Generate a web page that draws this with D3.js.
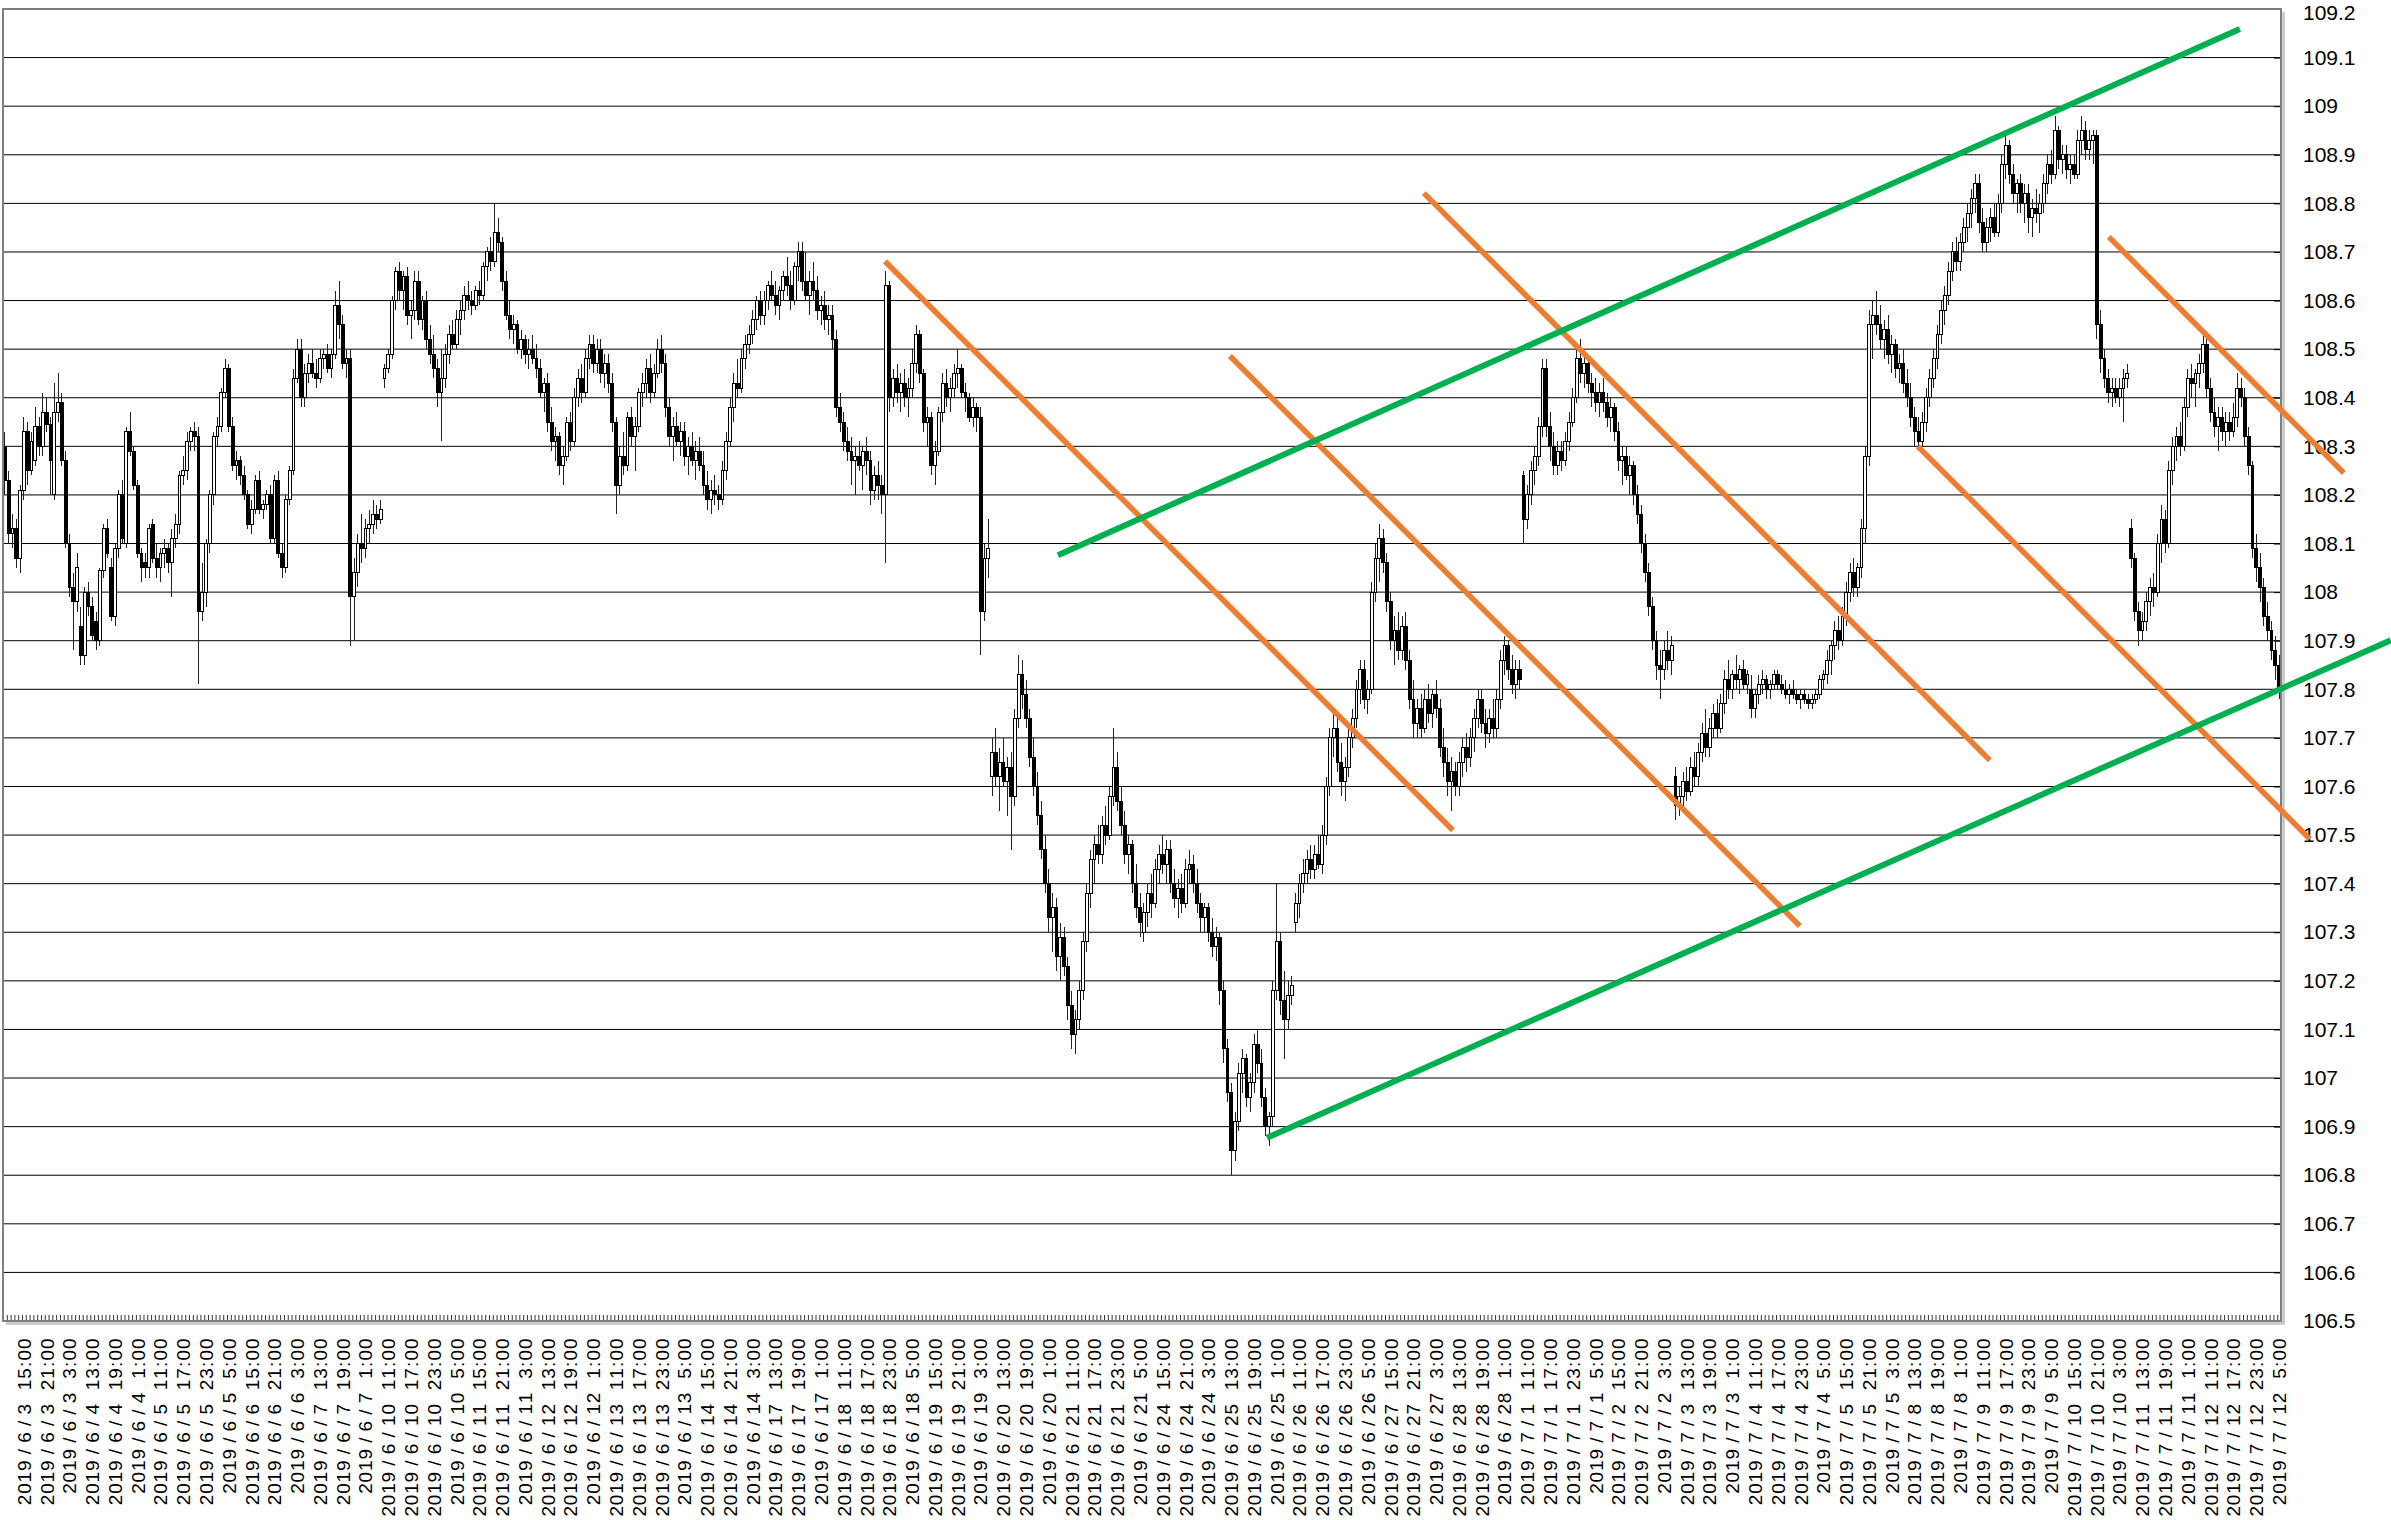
<!DOCTYPE html>
<html><head><meta charset="utf-8">
<script src="https://cdn.jsdelivr.net/npm/d3@7"></script>
<style>html,body{margin:0;padding:0;background:#fff;}svg{display:block}</style>
</head><body>
<svg id="chart" width="2391" height="1520"></svg>
<script>
// ---- tick labels (every 6th hourly bar, starting at the 6th bar) ----
const xLabels = [
"2019/6/3 15:00","2019/6/3 21:00","2019/6/3 3:00","2019/6/4 13:00","2019/6/4 19:00","2019/6/4 1:00","2019/6/5 11:00","2019/6/5 17:00","2019/6/5 23:00","2019/6/5 5:00",
"2019/6/6 15:00","2019/6/6 21:00","2019/6/6 3:00","2019/6/7 13:00","2019/6/7 19:00","2019/6/7 1:00","2019/6/10 11:00","2019/6/10 17:00","2019/6/10 23:00","2019/6/10 5:00",
"2019/6/11 15:00","2019/6/11 21:00","2019/6/11 3:00","2019/6/12 13:00","2019/6/12 19:00","2019/6/12 1:00","2019/6/13 11:00","2019/6/13 17:00","2019/6/13 23:00","2019/6/13 5:00",
"2019/6/14 15:00","2019/6/14 21:00","2019/6/14 3:00","2019/6/17 13:00","2019/6/17 19:00","2019/6/17 1:00","2019/6/18 11:00","2019/6/18 17:00","2019/6/18 23:00","2019/6/18 5:00",
"2019/6/19 15:00","2019/6/19 21:00","2019/6/19 3:00","2019/6/20 13:00","2019/6/20 19:00","2019/6/20 1:00","2019/6/21 11:00","2019/6/21 17:00","2019/6/21 23:00","2019/6/21 5:00",
"2019/6/24 15:00","2019/6/24 21:00","2019/6/24 3:00","2019/6/25 13:00","2019/6/25 19:00","2019/6/25 1:00","2019/6/26 11:00","2019/6/26 17:00","2019/6/26 23:00","2019/6/26 5:00",
"2019/6/27 15:00","2019/6/27 21:00","2019/6/27 3:00","2019/6/28 13:00","2019/6/28 19:00","2019/6/28 1:00","2019/7/1 11:00","2019/7/1 17:00","2019/7/1 23:00","2019/7/1 5:00",
"2019/7/2 15:00","2019/7/2 21:00","2019/7/2 3:00","2019/7/3 13:00","2019/7/3 19:00","2019/7/3 1:00","2019/7/4 11:00","2019/7/4 17:00","2019/7/4 23:00","2019/7/4 5:00",
"2019/7/5 15:00","2019/7/5 21:00","2019/7/5 3:00","2019/7/8 13:00","2019/7/8 19:00","2019/7/8 1:00","2019/7/9 11:00","2019/7/9 17:00","2019/7/9 23:00","2019/7/9 5:00",
"2019/7/10 15:00","2019/7/10 21:00","2019/7/10 3:00","2019/7/11 13:00","2019/7/11 19:00","2019/7/11 1:00","2019/7/12 11:00","2019/7/12 17:00","2019/7/12 23:00","2019/7/12 5:00"
];
const yTicks = [106.5,106.6,106.7,106.8,106.9,107,107.1,107.2,107.3,107.4,107.5,107.6,107.7,107.8,107.9,108,108.1,108.2,108.3,108.4,108.5,108.6,108.7,108.8,108.9,109,109.1,109.2];

// ---- hourly candles [open, high, low, close] ----
const week1 = [ // 6/3 - 6/7
[108.30,108.33,108.20,108.23],[108.23,108.25,108.10,108.12],[108.12,108.16,108.09,108.13],[108.13,108.15,108.05,108.07],[108.07,108.22,108.04,108.21],
[108.21,108.36,108.19,108.33],[108.33,108.35,108.22,108.25],[108.25,108.33,108.24,108.31],[108.27,108.38,108.26,108.34],[108.34,108.36,108.28,108.30],
[108.30,108.41,108.28,108.37],[108.37,108.40,108.33,108.345],[108.345,108.36,108.20,108.27],[108.20,108.43,108.19,108.37],[108.37,108.45,108.35,108.39],
[108.39,108.41,108.26,108.27],[108.27,108.29,108.09,108.10],[108.10,108.12,107.99,108.01],[108.01,108.04,107.88,107.98],[107.98,108.08,107.96,108.05],
[107.93,107.97,107.85,107.87],[107.87,108.01,107.85,108.00],[108.00,108.02,107.95,107.97],[107.97,107.99,107.90,107.91],[107.94,107.96,107.88,107.90],
[107.90,108.05,107.89,108.045],[108.045,108.14,108.03,108.13],[108.13,108.15,108.07,108.08],[108.05,108.07,107.94,107.95],[107.95,108.10,107.93,108.09],
[108.09,108.21,108.07,108.20],[108.20,108.23,108.10,108.11],[108.10,108.34,108.09,108.33],[108.33,108.37,108.28,108.29],[108.29,108.30,108.21,108.22],
[108.22,108.23,108.07,108.08],[108.08,108.09,108.02,108.05],[108.06,108.08,108.03,108.05],[108.05,108.14,108.03,108.13],[108.14,108.15,108.06,108.07],
[108.07,108.10,108.03,108.05],[108.05,108.09,108.02,108.08],[108.08,108.11,108.05,108.09],[108.09,108.10,108.04,108.06],[108.06,108.13,107.99,108.11],
[108.11,108.16,108.09,108.14],[108.14,108.25,108.12,108.24],[108.24,108.28,108.22,108.25],[108.25,108.33,108.23,108.31],[108.31,108.34,108.29,108.33],
[108.33,108.35,108.29,108.32],[108.32,108.34,107.81,107.96],[107.96,108.06,107.94,108.00],[108.00,108.11,107.97,108.10],[108.10,108.21,108.08,108.20],
[108.20,108.33,108.18,108.32],[108.32,108.36,108.30,108.34],[108.34,108.42,108.33,108.41],[108.41,108.48,108.40,108.46],[108.46,108.47,108.33,108.34],
[108.34,108.36,108.25,108.26],[108.26,108.29,108.23,108.27],[108.27,108.28,108.22,108.24],[108.24,108.26,108.19,108.20],[108.20,108.21,108.13,108.14],
[108.14,108.19,108.12,108.17],[108.17,108.24,108.16,108.23],[108.23,108.25,108.16,108.17],[108.17,108.19,108.15,108.18],[108.18,108.21,108.17,108.20],
[108.20,108.22,108.10,108.11],[108.11,108.24,108.10,108.23],[108.23,108.25,108.07,108.08],[108.08,108.10,108.03,108.05],[108.05,108.20,108.04,108.19],
[108.19,108.26,108.18,108.25],[108.25,108.46,108.24,108.44],[108.44,108.52,108.43,108.50],[108.50,108.52,108.38,108.40],[108.40,108.47,108.38,108.45],
[108.45,108.49,108.43,108.47],[108.47,108.50,108.44,108.45],[108.45,108.48,108.42,108.44],[108.44,108.50,108.43,108.48],[108.48,108.50,108.46,108.49],
[108.49,108.51,108.45,108.46],[108.46,108.50,108.44,108.49],[108.49,108.62,108.48,108.59],[108.59,108.64,108.52,108.55],[108.55,108.57,108.46,108.47],
[108.47,108.50,108.44,108.48],[108.48,108.50,107.89,107.99],[107.99,108.07,107.90,108.04],[108.04,108.12,108.01,108.10],[108.10,108.16,108.06,108.09],
[108.09,108.15,108.07,108.13],[108.13,108.17,108.10,108.14],[108.14,108.19,108.12,108.16],[108.16,108.18,108.13,108.15],[108.15,108.19,108.14,108.17]
];
const week2 = [ // 6/10 - 6/14
[108.44,108.47,108.42,108.46],[108.46,108.50,108.45,108.49],[108.49,108.61,108.48,108.60],[108.60,108.67,108.58,108.66],[108.66,108.68,108.60,108.62],
[108.62,108.66,108.58,108.65],[108.65,108.67,108.55,108.57],[108.57,108.60,108.52,108.58],[108.58,108.66,108.56,108.64],[108.64,108.66,108.55,108.56],
[108.56,108.61,108.54,108.60],[108.60,108.62,108.50,108.52],[108.52,108.55,108.47,108.49],[108.49,108.53,108.44,108.46],[108.46,108.48,108.38,108.41],
[108.41,108.50,108.31,108.44],[108.44,108.51,108.42,108.49],[108.49,108.55,108.47,108.53],[108.53,108.56,108.50,108.51],[108.51,108.58,108.50,108.56],
[108.56,108.60,108.53,108.58],[108.58,108.63,108.56,108.61],[108.61,108.64,108.58,108.60],[108.60,108.62,108.57,108.59],[108.59,108.63,108.58,108.62],
[108.62,108.64,108.59,108.61],[108.61,108.68,108.60,108.67],[108.67,108.71,108.64,108.70],[108.70,108.73,108.66,108.68],[108.68,108.80,108.67,108.74],
[108.74,108.77,108.70,108.72],[108.72,108.73,108.62,108.64],[108.64,108.66,108.56,108.57],[108.57,108.60,108.52,108.54],[108.54,108.57,108.51,108.55],
[108.55,108.56,108.49,108.50],[108.50,108.54,108.48,108.52],[108.52,108.53,108.47,108.49],[108.49,108.52,108.46,108.50],[108.50,108.53,108.47,108.48],
[108.48,108.51,108.44,108.46],[108.46,108.48,108.40,108.41],[108.41,108.44,108.37,108.43],[108.43,108.45,108.33,108.35],[108.35,108.38,108.29,108.31],
[108.31,108.34,108.27,108.32],[108.32,108.33,108.24,108.26],[108.26,108.30,108.22,108.28],[108.28,108.36,108.27,108.35],[108.35,108.37,108.29,108.31],
[108.31,108.42,108.30,108.40],[108.40,108.46,108.38,108.44],[108.44,108.47,108.39,108.41],[108.41,108.50,108.40,108.48],[108.48,108.53,108.46,108.51],
[108.51,108.53,108.45,108.47],[108.47,108.52,108.45,108.50],[108.50,108.52,108.43,108.45],[108.45,108.49,108.42,108.47],[108.47,108.49,108.41,108.43],
[108.43,108.45,108.33,108.35],[108.35,108.36,108.16,108.22],[108.22,108.30,108.20,108.28],[108.28,108.33,108.24,108.26],[108.26,108.37,108.25,108.36],
[108.36,108.38,108.30,108.32],[108.32,108.36,108.25,108.34],[108.34,108.42,108.33,108.41],[108.41,108.45,108.38,108.43],[108.43,108.48,108.40,108.46],
[108.46,108.49,108.39,108.41],[108.41,108.47,108.40,108.45],[108.45,108.52,108.44,108.50],[108.50,108.53,108.45,108.47],[108.47,108.49,108.36,108.38],
[108.38,108.40,108.30,108.32],[108.32,108.36,108.27,108.34],[108.34,108.37,108.30,108.31],[108.31,108.35,108.28,108.33],[108.33,108.35,108.26,108.28],
[108.28,108.32,108.24,108.30],[108.30,108.33,108.26,108.27],[108.27,108.31,108.23,108.29],[108.29,108.32,108.25,108.26],[108.26,108.29,108.20,108.22],
[108.22,108.25,108.17,108.19],[108.19,108.23,108.16,108.21],[108.21,108.24,108.18,108.20],[108.20,108.22,108.17,108.19],[108.19,108.27,108.18,108.25],
[108.25,108.33,108.23,108.31],[108.31,108.40,108.30,108.38],[108.38,108.45,108.35,108.43],[108.43,108.48,108.40,108.42],[108.42,108.50,108.41,108.48],
[108.48,108.53,108.46,108.51],[108.51,108.55,108.49,108.53],[108.53,108.58,108.51,108.56],[108.56,108.61,108.54,108.60],[108.60,108.62,108.55,108.57]
];
const week3 = [ // 6/17 - 6/21
[108.57,108.62,108.55,108.60],[108.60,108.64,108.58,108.63],[108.63,108.66,108.60,108.61],[108.61,108.64,108.57,108.59],[108.59,108.63,108.56,108.62],
[108.62,108.66,108.60,108.65],[108.65,108.69,108.61,108.63],[108.63,108.66,108.58,108.60],[108.60,108.68,108.59,108.67],[108.67,108.72,108.64,108.70],
[108.70,108.72,108.62,108.64],[108.64,108.70,108.60,108.61],[108.61,108.66,108.57,108.64],[108.64,108.68,108.60,108.62],[108.62,108.65,108.56,108.58],
[108.58,108.61,108.55,108.59],[108.59,108.62,108.54,108.56],[108.56,108.59,108.53,108.57],[108.57,108.59,108.50,108.52],[108.52,108.54,108.36,108.38],
[108.38,108.41,108.33,108.35],[108.35,108.37,108.29,108.31],[108.31,108.34,108.27,108.29],[108.29,108.32,108.22,108.27],[108.27,108.30,108.20,108.28],
[108.28,108.31,108.25,108.26],[108.26,108.30,108.21,108.29],[108.29,108.32,108.24,108.27],[108.27,108.29,108.18,108.21],[108.21,108.26,108.19,108.24],
[108.24,108.27,108.19,108.22],[108.22,108.24,108.16,108.20],[108.20,108.66,108.06,108.63],[108.63,108.64,108.37,108.40],[108.40,108.46,108.38,108.44],
[108.44,108.47,108.39,108.41],[108.41,108.45,108.37,108.43],[108.43,108.46,108.38,108.40],[108.40,108.44,108.36,108.42],[108.42,108.50,108.40,108.47],
[108.47,108.55,108.45,108.53],[108.53,108.54,108.43,108.45],[108.45,108.46,108.33,108.35],[108.35,108.38,108.30,108.36],[108.36,108.37,108.24,108.26],
[108.26,108.31,108.22,108.29],[108.29,108.38,108.28,108.37],[108.37,108.45,108.35,108.43],[108.43,108.46,108.38,108.40],[108.40,108.44,108.37,108.42],
[108.42,108.47,108.40,108.45],[108.45,108.50,108.42,108.46],[108.46,108.47,108.40,108.41],[108.41,108.43,108.37,108.40],[108.40,108.41,108.35,108.36],
[108.36,108.40,108.34,108.38],[108.38,108.39,108.33,108.36],[108.36,108.38,107.87,107.96],[107.96,108.10,107.94,108.07],[108.07,108.15,108.03,108.09],
[107.62,107.70,107.58,107.67],[107.67,107.72,107.60,107.62],[107.62,107.68,107.55,107.65],[107.65,107.70,107.60,107.61],[107.61,107.66,107.54,107.64],
[107.64,107.67,107.47,107.58],[107.58,107.76,107.56,107.74],[107.74,107.87,107.72,107.83],[107.83,107.86,107.76,107.79],[107.79,107.82,107.72,107.74],
[107.74,107.76,107.64,107.66],[107.66,107.70,107.58,107.60],[107.60,107.63,107.52,107.54],[107.54,107.57,107.45,107.47],[107.47,107.50,107.38,107.40],
[107.40,107.43,107.30,107.33],[107.33,107.38,107.26,107.35],[107.35,107.37,107.22,107.25],[107.25,107.32,107.20,107.29],[107.29,107.31,107.21,107.23],
[107.23,107.25,107.12,107.15],[107.15,107.18,107.06,107.09],[107.09,107.14,107.05,107.12],[107.12,107.20,107.10,107.18],[107.18,107.30,107.16,107.28],
[107.28,107.40,107.26,107.38],[107.38,107.47,107.35,107.45],[107.45,107.50,107.40,107.48],[107.48,107.52,107.44,107.46],[107.46,107.54,107.44,107.52],
[107.52,107.56,107.48,107.50],[107.50,107.60,107.49,107.58],[107.58,107.72,107.56,107.64],[107.64,107.67,107.55,107.57],[107.57,107.60,107.50,107.52],
[107.52,107.55,107.44,107.46],[107.46,107.50,107.42,107.48],[107.48,107.49,107.38,107.40],[107.40,107.44,107.33,107.35],[107.35,107.38,107.29,107.32]
];
const week4 = [ // 6/24 - 6/28
[107.30,107.36,107.28,107.34],[107.34,107.40,107.31,107.38],[107.38,107.42,107.33,107.36],[107.36,107.45,107.35,107.43],[107.43,107.48,107.40,107.46],
[107.46,107.50,107.42,107.44],[107.44,107.49,107.40,107.47],[107.47,107.49,107.38,107.40],[107.40,107.43,107.35,107.37],[107.37,107.41,107.33,107.39],
[107.39,107.42,107.34,107.36],[107.36,107.45,107.35,107.43],[107.43,107.47,107.40,107.44],[107.44,107.46,107.38,107.40],[107.40,107.43,107.34,107.36],
[107.36,107.38,107.30,107.33],[107.33,107.36,107.30,107.35],[107.35,107.36,107.28,107.30],[107.30,107.33,107.25,107.27],[107.27,107.31,107.24,107.29],
[107.29,107.30,107.15,107.18],[107.18,107.20,107.03,107.06],[107.06,107.08,106.95,106.97],[106.97,106.99,106.80,106.85],[106.85,106.93,106.83,106.91],
[106.91,107.03,106.89,107.01],[107.01,107.06,106.97,107.04],[107.04,107.05,106.94,106.96],[106.96,107.01,106.93,106.99],[106.99,107.09,106.97,107.07],
[107.07,107.10,107.01,107.03],[107.03,107.06,106.94,106.96],[106.96,106.98,106.88,106.90],[106.90,106.93,106.86,106.92],[106.92,107.20,106.90,107.18],
[107.18,107.40,107.16,107.28],[107.28,107.30,107.13,107.16],[107.16,107.22,107.04,107.12],[107.12,107.20,107.10,107.17],[107.17,107.21,107.15,107.19],
[107.32,107.38,107.30,107.36],[107.36,107.42,107.33,107.40],[107.40,107.45,107.38,107.42],[107.42,107.47,107.40,107.45],[107.45,107.48,107.41,107.43],
[107.43,107.48,107.41,107.46],[107.46,107.50,107.43,107.44],[107.44,107.52,107.42,107.50],[107.50,107.62,107.48,107.60],[107.60,107.72,107.58,107.70],
[107.70,107.76,107.66,107.72],[107.72,107.74,107.63,107.65],[107.65,107.69,107.58,107.61],[107.61,107.66,107.57,107.64],[107.64,107.72,107.62,107.70],
[107.70,107.76,107.68,107.74],[107.74,107.82,107.72,107.80],[107.80,107.86,107.77,107.84],[107.84,107.86,107.76,107.78],[107.78,107.82,107.75,107.80],
[107.80,108.02,107.79,108.00],[108.00,108.10,107.98,108.07],[108.07,108.14,108.02,108.11],[108.11,108.13,108.04,108.06],[108.06,108.08,107.96,107.98],
[107.98,108.00,107.88,107.90],[107.90,107.95,107.85,107.92],[107.92,107.96,107.86,107.88],[107.88,107.95,107.86,107.93],[107.93,107.96,107.84,107.86],
[107.86,107.88,107.76,107.78],[107.78,107.82,107.70,107.73],[107.73,107.78,107.70,107.76],[107.76,107.79,107.70,107.72],[107.72,107.80,107.71,107.78],
[107.78,107.81,107.73,107.75],[107.75,107.80,107.72,107.79],[107.79,107.82,107.74,107.76],[107.76,107.78,107.66,107.68],[107.68,107.72,107.62,107.65],
[107.65,107.68,107.58,107.61],[107.61,107.66,107.55,107.63],[107.63,107.65,107.58,107.60],[107.60,107.67,107.58,107.65],[107.65,107.70,107.62,107.68],
[107.68,107.71,107.63,107.66],[107.66,107.72,107.64,107.70],[107.70,107.76,107.67,107.74],[107.74,107.80,107.72,107.78],[107.78,107.80,107.71,107.73],
[107.73,107.76,107.68,107.71],[107.71,107.76,107.69,107.74],[107.74,107.78,107.70,107.72],[107.72,107.80,107.70,107.78],[107.78,107.88,107.76,107.86],
[107.86,107.91,107.83,107.89],[107.89,107.90,107.82,107.84],[107.84,107.87,107.79,107.81],[107.81,107.86,107.78,107.84],[107.84,107.86,107.80,107.82]
];
const week5 = [ // 7/1 - 7/5
[108.24,108.25,108.10,108.15],[108.15,108.22,108.13,108.20],[108.20,108.27,108.18,108.25],[108.25,108.30,108.22,108.28],[108.28,108.36,108.26,108.34],
[108.34,108.48,108.32,108.46],[108.46,108.48,108.32,108.34],[108.34,108.37,108.27,108.30],[108.30,108.33,108.24,108.26],[108.26,108.31,108.24,108.29],
[108.29,108.31,108.25,108.27],[108.27,108.33,108.26,108.31],[108.31,108.37,108.29,108.35],[108.35,108.42,108.34,108.40],[108.40,108.50,108.39,108.48],
[108.48,108.52,108.43,108.45],[108.45,108.49,108.42,108.47],[108.47,108.48,108.41,108.43],[108.43,108.45,108.38,108.41],[108.41,108.44,108.37,108.39],
[108.39,108.43,108.36,108.41],[108.41,108.44,108.37,108.39],[108.39,108.41,108.34,108.36],[108.36,108.40,108.33,108.38],[108.38,108.39,108.31,108.33],
[108.33,108.35,108.25,108.27],[108.27,108.30,108.22,108.28],[108.28,108.30,108.23,108.24],[108.24,108.28,108.20,108.26],[108.26,108.27,108.18,108.20],
[108.20,108.22,108.14,108.16],[108.16,108.18,108.08,108.10],[108.10,108.12,108.02,108.04],[108.04,108.06,107.95,107.97],[107.97,107.99,107.88,107.90],
[107.90,107.92,107.82,107.85],[107.85,107.88,107.78,107.84],[107.84,107.90,107.82,107.88],[107.88,107.92,107.84,107.86],[107.86,107.91,107.83,107.89],
[107.62,107.64,107.53,107.56],[107.56,107.60,107.54,107.58],[107.58,107.63,107.55,107.61],[107.61,107.64,107.57,107.59],[107.59,107.66,107.58,107.64],
[107.64,107.67,107.60,107.62],[107.62,107.69,107.60,107.67],[107.67,107.73,107.65,107.71],[107.71,107.76,107.66,107.68],[107.68,107.74,107.66,107.72],
[107.72,107.77,107.70,107.75],[107.75,107.78,107.70,107.72],[107.72,107.79,107.71,107.77],[107.77,107.84,107.75,107.82],[107.82,107.86,107.78,107.80],
[107.80,107.84,107.78,107.83],[107.83,107.87,107.80,107.82],[107.82,107.85,107.79,107.84],[107.84,107.86,107.80,107.81],[107.81,107.84,107.79,107.83],
[107.80,107.83,107.74,107.76],[107.76,107.80,107.74,107.79],[107.79,107.83,107.77,107.81],[107.81,107.84,107.79,107.82],[107.82,107.83,107.78,107.80],
[107.80,107.82,107.78,107.81],[107.81,107.84,107.80,107.83],[107.83,107.84,107.80,107.81],[107.81,107.83,107.79,107.80],[107.80,107.82,107.78,107.79],
[107.79,107.81,107.77,107.80],[107.80,107.82,107.78,107.79],[107.79,107.80,107.77,107.78],[107.78,107.80,107.76,107.79],[107.79,107.80,107.77,107.78],
[107.78,107.79,107.76,107.77],[107.77,107.79,107.76,107.78],[107.78,107.80,107.77,107.79],[107.79,107.83,107.78,107.82],[107.82,107.84,107.80,107.83],
[107.83,107.88,107.81,107.86],[107.86,107.90,107.83,107.89],[107.89,107.94,107.86,107.92],[107.92,107.95,107.88,107.90],[107.90,107.97,107.89,107.95],
[107.95,108.02,107.93,108.00],[108.00,108.06,107.98,108.04],[108.04,108.07,107.99,108.01],[108.01,108.06,107.99,108.05],[108.05,108.15,108.03,108.13],
[108.13,108.30,108.10,108.28],[108.28,108.58,108.26,108.55],[108.55,108.60,108.48,108.57],[108.57,108.62,108.53,108.55],[108.55,108.59,108.50,108.52],
[108.52,108.56,108.48,108.54],[108.54,108.57,108.47,108.49],[108.49,108.53,108.45,108.51],[108.51,108.52,108.44,108.46],[108.46,108.49,108.43,108.47]
];
const week6 = [ // 7/8 - 7/12
[108.47,108.50,108.41,108.43],[108.43,108.46,108.38,108.40],[108.40,108.43,108.34,108.36],[108.36,108.38,108.30,108.33],[108.33,108.36,108.29,108.31],
[108.31,108.37,108.30,108.35],[108.35,108.42,108.33,108.40],[108.40,108.46,108.38,108.44],[108.44,108.50,108.42,108.48],[108.48,108.55,108.46,108.53],
[108.53,108.60,108.51,108.58],[108.58,108.63,108.55,108.61],[108.61,108.68,108.59,108.66],[108.66,108.72,108.64,108.70],[108.70,108.73,108.66,108.68],
[108.68,108.74,108.66,108.72],[108.72,108.77,108.70,108.75],[108.75,108.80,108.72,108.78],[108.78,108.83,108.75,108.81],[108.81,108.86,108.78,108.84],
[108.84,108.86,108.74,108.76],[108.76,108.79,108.70,108.72],[108.72,108.77,108.70,108.75],[108.75,108.79,108.72,108.77],[108.77,108.80,108.73,108.74],
[108.74,108.82,108.73,108.80],[108.80,108.90,108.78,108.88],[108.88,108.95,108.85,108.92],[108.92,108.93,108.84,108.86],[108.86,108.88,108.80,108.82],
[108.82,108.85,108.78,108.84],[108.84,108.86,108.78,108.80],[108.80,108.84,108.76,108.82],[108.82,108.84,108.74,108.77],[108.77,108.81,108.73,108.79],
[108.79,108.83,108.76,108.78],[108.78,108.82,108.74,108.80],[108.80,108.86,108.78,108.84],[108.84,108.90,108.82,108.88],[108.88,108.91,108.84,108.86],
[108.86,108.98,108.85,108.95],[108.95,108.96,108.87,108.89],[108.89,108.92,108.86,108.90],[108.90,108.92,108.85,108.87],[108.87,108.90,108.84,108.88],
[108.88,108.90,108.85,108.86],[108.86,108.95,108.85,108.93],[108.93,108.98,108.90,108.95],[108.95,108.97,108.89,108.91],[108.91,108.95,108.89,108.93],
[108.93,108.95,108.88,108.94],[108.94,108.95,108.52,108.55],[108.55,108.58,108.45,108.48],[108.48,108.50,108.42,108.44],[108.44,108.46,108.39,108.41],
[108.41,108.44,108.38,108.42],[108.42,108.44,108.39,108.40],[108.40,108.44,108.38,108.42],[108.42,108.46,108.35,108.44],[108.44,108.47,108.42,108.45],
[108.13,108.15,108.05,108.07],[108.07,108.08,107.94,107.96],[107.96,107.98,107.89,107.92],[107.92,107.96,107.90,107.94],[107.94,108.00,107.92,107.98],
[107.98,108.03,107.95,108.01],[108.01,108.04,107.97,108.00],[108.00,108.12,107.99,108.10],[108.10,108.18,108.06,108.15],[108.15,108.17,108.08,108.10],
[108.10,108.27,108.09,108.25],[108.25,108.32,108.22,108.30],[108.30,108.34,108.27,108.32],[108.32,108.35,108.28,108.30],[108.30,108.40,108.29,108.38],
[108.38,108.46,108.36,108.44],[108.44,108.47,108.40,108.43],[108.43,108.46,108.38,108.45],[108.45,108.49,108.42,108.47],[108.47,108.53,108.45,108.51],
[108.51,108.52,108.40,108.42],[108.42,108.44,108.35,108.37],[108.37,108.40,108.32,108.34],[108.34,108.38,108.29,108.36],[108.36,108.38,108.31,108.33],
[108.33,108.37,108.30,108.35],[108.35,108.37,108.31,108.33],[108.33,108.39,108.32,108.36],[108.36,108.45,108.34,108.42],[108.42,108.44,108.38,108.40],
[108.40,108.42,108.30,108.32],[108.32,108.34,108.24,108.26],[108.26,108.27,108.07,108.09],[108.09,108.12,108.02,108.05],[108.05,108.08,107.98,108.01],
[108.01,108.03,107.93,107.95],[107.95,107.98,107.90,107.92],[107.92,107.94,107.86,107.88],[107.88,107.91,107.82,107.85],[107.85,107.87,107.78,107.80]
];

// ---- hand-drawn trend lines: [barIndexStart, priceStart, barIndexEnd, priceEnd] ----
const greenLines = [
  [277.85,108.076,589.15,109.159],
  [332.9,106.877,628.9,107.901]
];
const orangeLines = [
  [232.29,108.681,381.88,107.510],
  [323.15,108.486,473.27,107.313],
  [374.24,108.821,523.31,107.654],
  [504.35,108.300,607.58,107.492],
  [554.65,108.731,616.54,108.245]
];

const bars = [].concat(week1, week2, week3, week4, week5, week6);

// ---- layout ----
const plot = {left: 3, right: 2281, top: 9, bottom: 1321};
const svg = d3.select("#chart");
const nCat = 600;
const x = d3.scaleLinear().domain([0, nCat]).range([plot.left, plot.right]);
const y = d3.scaleLinear().domain([106.5, 109.2]).range([plot.bottom, plot.top]);

// shadow of plot frame
svg.append("path")
  .attr("d", `M${plot.right+2.5},${plot.top+3} V${plot.bottom+2.5} H${plot.left+3}`)
  .attr("fill","none").attr("stroke","#c4c4c4").attr("stroke-width",2.5);

// gridlines
svg.append("g").selectAll("line").data(yTicks).join("line")
  .attr("x1", plot.left).attr("x2", plot.right)
  .attr("y1", d => y(d)).attr("y2", d => y(d))
  .attr("stroke", "#000").attr("stroke-width", 1);

// right axis
const yAxis = d3.axisRight(y).tickValues(yTicks).tickSize(-7).tickPadding(22)
  .tickFormat(d => String(+d.toFixed(1)));
const gy = svg.append("g").attr("transform", `translate(${plot.right},0)`).call(yAxis);
gy.select(".domain").remove();
gy.selectAll("line").attr("stroke","#000");
gy.selectAll("text").attr("font-family","'Liberation Sans', Arial, sans-serif")
  .attr("font-size", 21).attr("fill","#000");
gy.selectAll(".tick").filter(d => d === 109.2).select("text").attr("y", 4);

// bottom axis ticks (every category)
const xAxis = d3.axisBottom(x).tickValues(d3.range(0, nCat + 1)).tickSize(-6).tickFormat("");
const gx = svg.append("g").attr("transform", `translate(0,${plot.bottom})`).call(xAxis);
gx.select(".domain").remove();
gx.selectAll("line").attr("stroke","#000").attr("stroke-width",0.8);

// candles
const cw = 2.8;
const g = svg.append("g").attr("shape-rendering","crispEdges");
g.selectAll("line.wick").data(bars).join("line").attr("class","wick")
  .attr("x1", (d,i) => x(i+0.5)).attr("x2", (d,i) => x(i+0.5))
  .attr("y1", d => y(d[1])).attr("y2", d => y(d[2]))
  .attr("stroke", "#222").attr("stroke-width", 1);
g.selectAll("rect.body").data(bars).join("rect").attr("class","body")
  .attr("x", (d,i) => x(i+0.5) - cw/2).attr("width", cw)
  .attr("y", d => y(Math.max(d[0], d[3])))
  .attr("height", d => Math.max(1, Math.abs(y(d[0]) - y(d[3]))))
  .attr("fill", d => d[3] >= d[0] ? "#fff" : "#000")
  .attr("stroke", "#000").attr("stroke-width", 1);

// plot frame
svg.append("rect").attr("x", plot.left).attr("y", plot.top)
  .attr("width", plot.right - plot.left).attr("height", plot.bottom - plot.top)
  .attr("fill","none").attr("stroke","#7f7f7f").attr("stroke-width",2);

// x labels (rotated, every 6th bar starting with index 5)
const adv = ch => /\d/.test(ch) ? 11.4 : ch === "/" ? 16.8 : ch === " " ? 13 : ch === ":" ? 7 : 11.4;
const lg = svg.append("g").attr("font-family","'Liberation Sans', Arial, sans-serif")
  .attr("font-size", 19).attr("fill","#000");
xLabels.forEach((lab, k) => {
  const cx = x(5 + 6*k + 0.5);
  const chars = lab.split("");
  const total = d3.sum(chars, adv);
  let pos = -total;
  const xs = chars.map(ch => { const c = pos + adv(ch)/2; pos += adv(ch); return c.toFixed(2); });
  lg.append("text")
    .attr("transform", `translate(${cx},1338) rotate(-90)`)
    .attr("x", xs.join(" ")).attr("y", 0).attr("dy", "0.36em")
    .attr("text-anchor","middle")
    .text(lab);
});

// trend lines
const tl = svg.append("g").attr("fill","none").attr("stroke-linecap","butt");
tl.selectAll("line.o").data(orangeLines).join("line").attr("class","o")
  .attr("x1", d => x(d[0])).attr("y1", d => y(d[1]))
  .attr("x2", d => x(d[2])).attr("y2", d => y(d[3]))
  .attr("stroke","#ED7D31").attr("stroke-width",5.5);
tl.selectAll("line.gr").data(greenLines).join("line").attr("class","gr")
  .attr("x1", d => x(d[0])).attr("y1", d => y(d[1]))
  .attr("x2", d => x(d[2])).attr("y2", d => y(d[3]))
  .attr("stroke","#00B050").attr("stroke-width",6);
</script>
</body></html>
